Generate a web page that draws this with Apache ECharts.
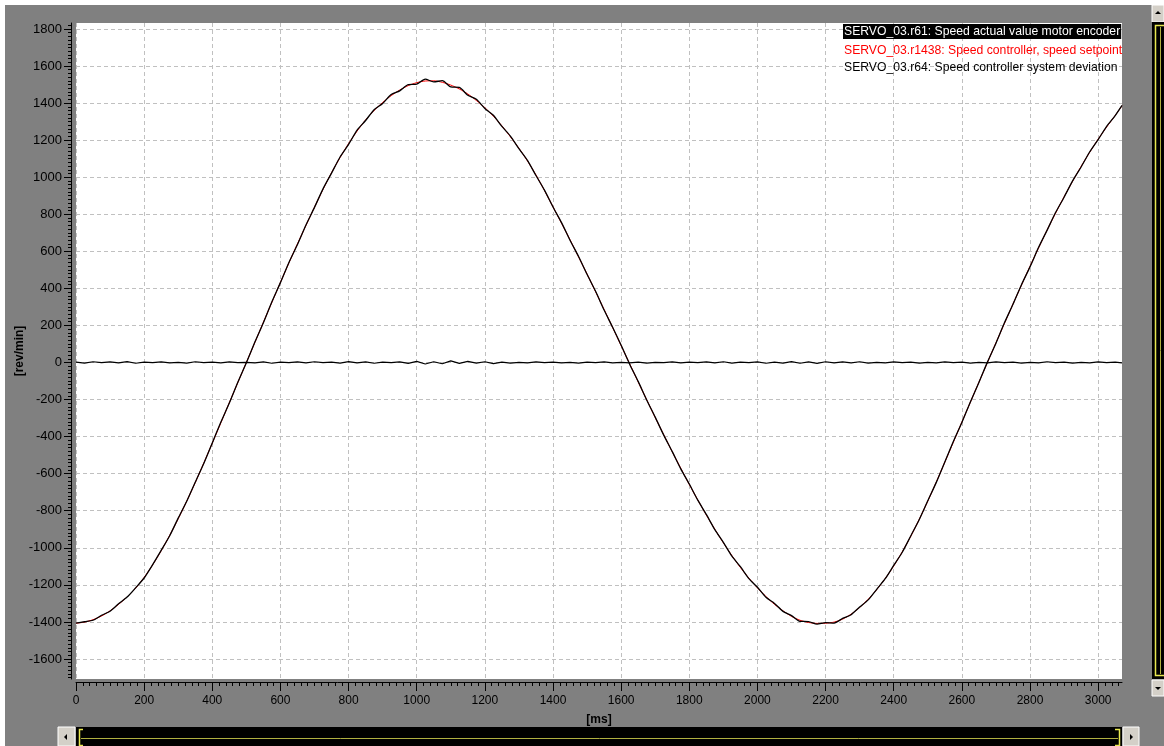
<!DOCTYPE html>
<html><head><meta charset="utf-8">
<script src="https://cdn.jsdelivr.net/npm/echarts@6/dist/echarts.min.js"></script>
<style>html,body{margin:0;padding:0;background:#fff;overflow:hidden}#c{width:1164px;height:746px}</style>
</head><body><div id="c"></div>
<script>
const seriesNames = [
  'SERVO_03.r61: Speed actual value motor encoder',
  'SERVO_03.r1438: Speed controller, speed setpoint',
  'SERVO_03.r64: Speed controller system deviation'
];
const xAxisName = '[ms]';
const yAxisName = '[rev/min]';
const xTickValues = [0,200,400,600,800,1000,1200,1400,1600,1800,2000,2200,2400,2600,2800,3000];
const yTickValues = [-1600,-1400,-1200,-1000,-800,-600,-400,-200,0,200,400,600,800,1000,1200,1400,1600,1800];
const timesMs = [0,25,50,75,100,125,150,175,200,225,250,275,300,325,350,375,400,425,450,475,500,525,550,575,600,625,650,675,700,725,750,775,800,825,850,875,900,925,950,975,1000,1025,1050,1075,1100,1125,1150,1175,1200,1225,1250,1275,1300,1325,1350,1375,1400,1425,1450,1475,1500,1525,1550,1575,1600,1625,1650,1675,1700,1725,1750,1775,1800,1825,1850,1875,1900,1925,1950,1975,2000,2025,2050,2075,2100,2125,2150,2175,2200,2225,2250,2275,2300,2325,2350,2375,2400,2425,2450,2475,2500,2525,2550,2575,2600,2625,2650,2675,2700,2725,2750,2775,2800,2825,2850,2875,2900,2925,2950,2975,3000,3025,3050,3070];
const actualSpeed = [-1407,-1399,-1391,-1364,-1342,-1302,-1266,-1216,-1163,-1091,
  -1014,-935,-840,-749,-646,-545,-434,-323,-219,-107,
  -1,110,215,328,431,540,637,742,837,937,
  1022,1109,1177,1254,1306,1364,1398,1446,1466,1499,
  1502,1529,1514,1521,1487,1484,1442,1420,1371,1334,
  1274,1222,1154,1091,1009,930,839,755,660,572,
  476,384,283,190,93,-9,-102,-202,-295,-392,
  -481,-574,-656,-743,-820,-902,-971,-1045,-1102,-1166,
  -1213,-1267,-1300,-1343,-1366,-1397,-1398,-1412,-1404,-1406,
  -1381,-1361,-1320,-1281,-1224,-1167,-1095,-1024,-936,-847,
  -746,-647,-537,-427,-324,-213,-108,2,104,214,
  314,420,516,620,713,809,892,980,1055,1136,
  1203,1274,1332,1387];
const setpointSpeed = [-1407,-1401,-1388,-1368,-1340,-1305,-1265,-1218,-1160,-1092,
  -1016,-933,-843,-748,-648,-543,-435,-326,-217,-108,
  0,108,217,325,432,538,640,740,838,934,
  1024,1106,1181,1249,1309,1360,1403,1440,1470,1494,
  1510,1519,1520,1512,1497,1476,1449,1414,1375,1329,
  1277,1218,1156,1088,1012,928,840,752,662,570,
  477,382,286,189,91,-7,-105,-201,-297,-390,
  -482,-571,-658,-742,-823,-900,-973,-1042,-1106,-1164,
  -1216,-1263,-1305,-1340,-1370,-1391,-1403,-1408,-1407,-1401,
  -1385,-1358,-1322,-1278,-1226,-1166,-1098,-1022,-938,-846,
  -748,-645,-538,-430,-322,-214,-107,0,106,211,
  315,418,519,618,714,806,894,978,1058,1134,
  1205,1271,1333,1385];
const deviationSpeed = [2,-3,4,-1,3,-2,5,-4,2,-1, 3,-2,1,-3,4,-1,2,-2,3,-1,
  1,-2,3,-4,2,-1,3,-2,4,-1, 2,-3,5,-2,3,-4,2,-1,3,-5,
  6,-8,4,-7,9,-5,6,-3,4,-6, 2,-3,1,-2,3,-1,2,-2,1,-3,
  2,-1,3,-2,1,-2,2,-3,1,-1, 3,-2,2,-1,3,-2,4,-3,2,-1,
  3,-4,2,-3,5,-4,3,-5,4,-2, 3,-2,4,-3,1,-2,3,-1,2,-3,
  1,-2,3,-1,2,-3,1,-2,3,-1, 2,-3,1,-2,4,-1,2,-3,1,-2,
  3,-1,2,-2];

const pairs = (vals) => timesMs.map((t, i) => [t, vals[i]]);
const X_MIN = 0, X_MAX = 3070, Y_MIN = -1708, Y_MAX = 1832;
const xMinor = [], yMinor = [];
for (let v = 20; v < X_MAX; v += 20) if (v % 200) xMinor.push(v);
for (let v = -1700; v < Y_MAX; v += 20) if (v % 200) yMinor.push(v);

const FONT = 'Liberation Sans';
const plain = (v) => String(v);
const gridLine = { show: true, lineStyle: { color: '#c0c0c0', width: 1, type: [4, 3] } };
const yellow = '#e8e850', olive = '#b0b040', btn = '#d4d0c8';

const chart = echarts.init(document.getElementById('c'), null, { renderer: 'canvas' });
chart.setOption({
  animation: false,
  backgroundColor: '#808080',
  textStyle: { fontFamily: FONT },
  grid: { left: 76, top: 23, right: 42, bottom: 67, show: true, backgroundColor: '#ffffff', borderWidth: 0,
          containLabel: false, outerBoundsMode: 'none' },
  legend: {
    orient: 'vertical', left: 838, top: 24, padding: 0, itemWidth: 0, itemHeight: 13, itemGap: 4.7,
    icon: 'rect', selectedMode: false,
    textStyle: { fontFamily: FONT, fontSize: 12.2, color: '#000', padding: [2, 1, 1, 1] },
    data: [
      { name: seriesNames[0], textStyle: { color: '#ffffff', backgroundColor: '#000000' } },
      { name: seriesNames[1], textStyle: { color: '#ff0000' } },
      { name: seriesNames[2], textStyle: { color: '#000000' } }
    ]
  },
  xAxis: [
    {
      type: 'value', min: X_MIN, max: X_MAX, position: 'bottom', offset: 3,
      axisLine: { show: true, onZero: false, lineStyle: { color: '#000', width: 1 } },
      axisTick: { show: true, customValues: xTickValues, length: 9, lineStyle: { color: '#000' } },
      axisLabel: { customValues: xTickValues, formatter: plain, color: '#000', fontSize: 12, fontFamily: FONT, margin: 13 },
      splitLine: gridLine,
      name: xAxisName, nameLocation: 'middle', nameGap: 32, nameMoveOverlap: false,
      nameTextStyle: { color: '#000', fontWeight: 'bold', fontSize: 12, fontFamily: FONT }
    },
    {
      type: 'value', min: X_MIN, max: X_MAX, position: 'bottom', offset: 3,
      axisLine: { show: false, onZero: false },
      axisTick: { show: true, customValues: xMinor, length: 4, lineStyle: { color: '#000' } },
      axisLabel: { show: false }, splitLine: { show: false }
    }
  ],
  yAxis: [
    {
      type: 'value', min: Y_MIN, max: Y_MAX, position: 'left', offset: 5,
      axisLine: { show: true, onZero: false, lineStyle: { color: '#000', width: 1 } },
      axisTick: { show: true, customValues: yTickValues, length: 7, lineStyle: { color: '#000' } },
      axisLabel: { customValues: yTickValues, formatter: plain, color: '#000', fontSize: 13, fontFamily: FONT, margin: 9 },
      splitLine: gridLine,
      name: yAxisName, nameLocation: 'middle', nameRotate: 90, nameGap: 45, nameMoveOverlap: false,
      nameTextStyle: { color: '#000', fontWeight: 'bold', fontSize: 12, fontFamily: FONT }
    },
    {
      type: 'value', min: Y_MIN, max: Y_MAX, position: 'left', offset: 5,
      axisLine: { show: false, onZero: false },
      axisTick: { show: true, customValues: yMinor, length: 3, lineStyle: { color: '#000' } },
      axisLabel: { show: false }, splitLine: { show: false }
    }
  ],
  series: [
    { name: seriesNames[1], type: 'line', data: pairs(setpointSpeed), showSymbol: false, symbol: 'none', smooth: 0.25,
      lineStyle: { color: '#ff0000', width: 1 }, itemStyle: { color: '#ff0000' }, z: 2 },
    { name: seriesNames[0], type: 'line', data: pairs(actualSpeed), showSymbol: false, symbol: 'none', smooth: 0.25,
      lineStyle: { color: '#000000', width: 1.3 }, itemStyle: { color: '#000000' }, z: 3 },
    { name: seriesNames[2], type: 'line', data: pairs(deviationSpeed), showSymbol: false, symbol: 'none',
      lineStyle: { color: '#000000', width: 1.2 }, itemStyle: { color: '#000000' }, z: 3 }
  ],
  graphic: [
    { type: 'rect', shape: { x: 0, y: 0, width: 1164, height: 5 }, style: { fill: '#fff' }, silent: true },
    { type: 'rect', shape: { x: 0, y: 0, width: 5, height: 746 }, style: { fill: '#fff' }, silent: true },
    // bottom scrollbar
    { type: 'rect', shape: { x: 58, y: 727, width: 17, height: 19 }, style: { fill: btn, stroke: '#fff', lineWidth: 1 } },
    { type: 'polygon', shape: { points: [[64, 737], [67, 734], [67, 740]] }, style: { fill: '#000' } },
    { type: 'rect', shape: { x: 76, y: 727, width: 1046, height: 19 }, style: { fill: '#000' } },
    { type: 'rect', shape: { x: 1123, y: 727, width: 16, height: 19 }, style: { fill: btn, stroke: '#fff', lineWidth: 1 } },
    { type: 'polygon', shape: { points: [[1133, 737], [1130, 734], [1130, 740]] }, style: { fill: '#000' } },
    { type: 'polyline', shape: { points: [[83, 729.5], [79.5, 729.5], [79.5, 745.5], [83, 745.5]] }, style: { stroke: yellow, lineWidth: 1.5, fill: null } },
    { type: 'line', shape: { x1: 81, y1: 738.5, x2: 1118, y2: 738.5 }, style: { stroke: olive, lineWidth: 1 } },
    { type: 'polyline', shape: { points: [[1115, 729.5], [1119.5, 729.5], [1119.5, 745.5], [1115, 745.5]] }, style: { stroke: yellow, lineWidth: 1.5, fill: null } },
    // right scrollbar
    { type: 'rect', shape: { x: 1152, y: 5, width: 12, height: 17 }, style: { fill: btn, stroke: '#fff', lineWidth: 1 } },
    { type: 'polygon', shape: { points: [[1158, 11], [1155, 14], [1161, 14]] }, style: { fill: '#000' } },
    { type: 'rect', shape: { x: 1152, y: 22, width: 12, height: 657 }, style: { fill: '#000' } },
    { type: 'rect', shape: { x: 1152, y: 680, width: 12, height: 16 }, style: { fill: btn, stroke: '#fff', lineWidth: 1 } },
    { type: 'polygon', shape: { points: [[1158, 690], [1155, 687], [1161, 687]] }, style: { fill: '#000' } },
    { type: 'polyline', shape: { points: [[1164, 25.5], [1155.5, 25.5], [1155.5, 675.5], [1164, 675.5]] }, style: { stroke: yellow, lineWidth: 1.5, fill: null } },
    { type: 'line', shape: { x1: 1160.5, y1: 27, x2: 1160.5, y2: 674 }, style: { stroke: olive, lineWidth: 1 } }
  ]
});
</script>
</body></html>
